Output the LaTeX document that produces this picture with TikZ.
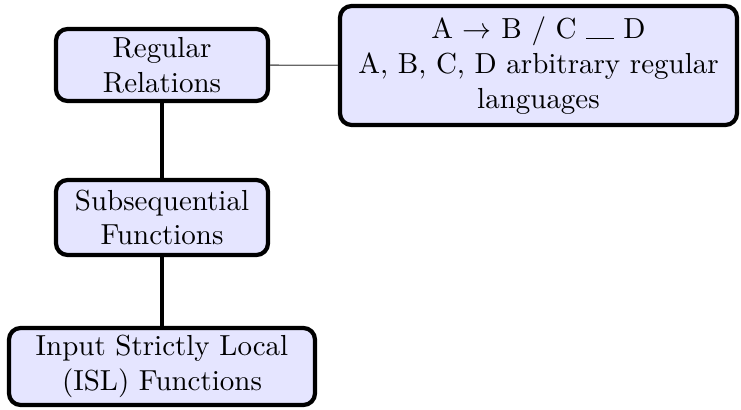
\documentclass[tikz,border=0pt]{standalone}
\usetikzlibrary{positioning}
\begin{document}
\begin{tikzpicture}[x=0.345pt,y=-0.345pt,
  box/.style={draw=black, line width=1.45pt, rounded corners=4pt, fill=blue!10, align=center, inner sep=0pt, font=\normalsize},
  thickline/.style={line width=1.45pt},
  thinline/.style={draw=black!60, line width=0.45pt}]
\path[use as bounding box] (0,0) rectangle (741,410);
\node[box, minimum width=212*0.345pt, minimum height=72*0.345pt] (rr) at (162,65) {Regular\\Relations};
\node[box, minimum width=397*0.345pt, minimum height=119*0.345pt] (rule) at (538.5,65.5) {A $\rightarrow$ B / C \rule[-0.2pt]{9.5pt}{0.45pt} D\\A, B, C, D arbitrary regular\\languages};
\node[box, minimum width=212*0.345pt, minimum height=75*0.345pt] (sub) at (162,217.5) {Subsequential\\Functions};
\node[box, minimum width=306*0.345pt, minimum height=77*0.345pt] (isl) at (162,366.5) {Input Strictly Local\\(ISL) Functions};
\draw[thickline] (rr) -- (sub);
\draw[thickline] (sub) -- (isl);
\draw[thinline] (rr) -- (rule);
\end{tikzpicture}
\end{document}
